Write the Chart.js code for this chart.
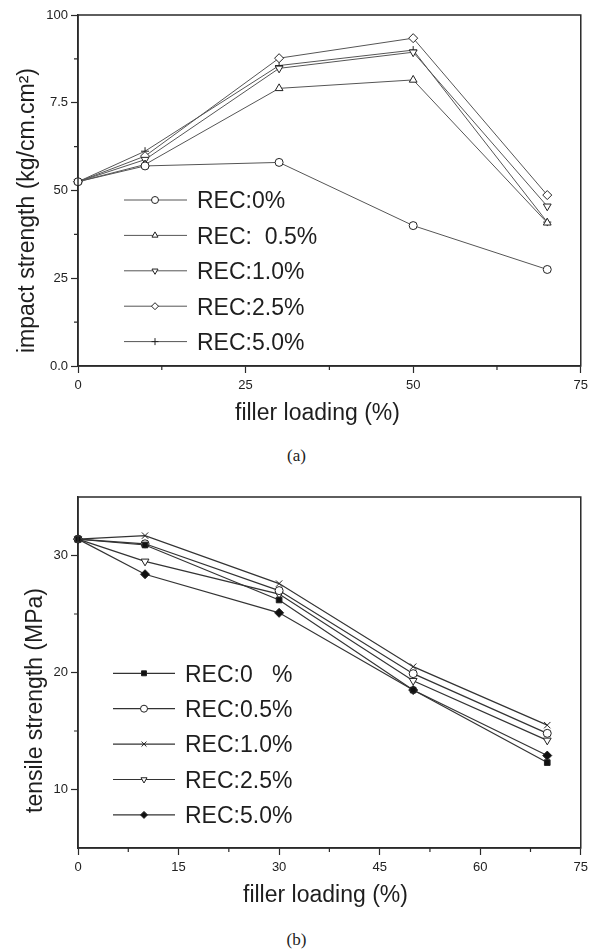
<!DOCTYPE html>
<html><head><meta charset="utf-8">
<script src="https://cdn.jsdelivr.net/npm/chart.js@4.4.0/dist/chart.umd.min.js"></script>
<style>
html,body{margin:0;padding:0;background:#fff;}
body{width:593px;height:949px;position:relative;overflow:hidden;}
.wrap{position:absolute;left:0;width:593px;}
#wa{top:0;height:430px;}
#wb{top:470px;height:445px;}
.cap{position:absolute;left:0;width:593px;text-align:center;font-family:'Liberation Serif','Times New Roman',serif;font-size:17px;color:#222;line-height:20px;}
</style></head><body>
<div class="wrap" id="wa"><canvas id="ca"></canvas></div>
<div class="cap" style="top:446px;">(a)</div>
<div class="wrap" id="wb"><canvas id="cb"></canvas></div>
<div class="cap" style="top:930px;">(b)</div>
<script>
// ---------- data: chart (a) impact strength ----------
const fillerA = [0, 10, 30, 50, 70];
const impactRec0 = [5.25, 5.70, 5.80, 4.00, 2.75];
const impactRec05 = [5.25, 5.74, 7.91, 8.15, 4.08];
const impactRec10 = [5.25, 5.88, 8.48, 8.94, 4.55];
const impactRec25 = [5.25, 5.98, 8.77, 9.34, 4.87];
const impactRec50 = [5.25, 6.12, 8.56, 9.00, 4.10];
const labelsA = ['REC:0%', 'REC:  0.5%', 'REC:1.0%', 'REC:2.5%', 'REC:5.0%'];
const xTicksA = [0, 25, 50, 75];
const xMinorA = [12.5, 37.5, 62.5];
const yTicksA = [0, 2.5, 5, 7.5, 10];
const yTickLabelsA = ['0.0', '25', '50', '7.5', '100'];
const yMinorA = [1.25, 3.75, 6.25, 8.75];

// ---------- data: chart (b) tensile strength ----------
const fillerB = [0, 10, 30, 50, 70];
const tensileRec0 = [31.4, 30.9, 26.2, 18.5, 12.3];
const tensileRec05 = [31.4, 31.0, 27.0, 19.9, 14.8];
const tensileRec10 = [31.4, 31.7, 27.6, 20.5, 15.5];
const tensileRec25 = [31.4, 29.5, 26.7, 19.3, 14.2];
const tensileRec50 = [31.4, 28.4, 25.1, 18.5, 12.9];
const labelsB = ['REC:0   %', 'REC:0.5%', 'REC:1.0%', 'REC:2.5%', 'REC:5.0%'];
const xTicksB = [0, 15, 30, 45, 60, 75];
const xMinorB = [7.5, 22.5, 37.5, 52.5, 67.5];
const yTicksB = [10, 20, 30];
const yMinorB = [15, 25];

const FONT = '"Liberation Sans", Arial, Helvetica, sans-serif';

function pts(xs, ys) { return xs.map((x, i) => ({x: x, y: ys[i]})); }

function drawMarker(ctx, ds, x, y, r) {
  const opts = {pointStyle: ds.pointStyle, rotation: ds.pointRotation || 0, radius: r, borderWidth: ds.pointBorderWidth};
  ctx.fillStyle = ds.pointBackgroundColor;
  ctx.strokeStyle = ds.pointBorderColor;
  ctx.lineWidth = ds.pointBorderWidth;
  if (Chart.helpers && Chart.helpers.drawPoint) {
    Chart.helpers.drawPoint(ctx, opts, x, y);
  }
}

const deco = {
  id: 'deco',
  afterDraw(chart, args, o) {
    const ctx = chart.ctx, a = chart.chartArea;
    const xs = chart.scales.x, ys = chart.scales.y;
    ctx.save();
    // frame
    ctx.strokeStyle = '#2a2a2a';
    ctx.lineWidth = 1.5;
    ctx.strokeRect(a.left, a.top, a.right - a.left, a.bottom - a.top);
    // minor ticks
    ctx.lineWidth = 1.2;
    ctx.beginPath();
    o.minorX.forEach(v => { const px = xs.getPixelForValue(v); ctx.moveTo(px, a.bottom); ctx.lineTo(px, a.bottom + 4); });
    o.minorY.forEach(v => { const py = ys.getPixelForValue(v); ctx.moveTo(a.left, py); ctx.lineTo(a.left - 4, py); });
    ctx.stroke();
    // axis titles
    ctx.fillStyle = '#1e1e1e';
    ctx.font = '23px ' + FONT;
    ctx.textAlign = 'left';
    ctx.textBaseline = 'alphabetic';
    ctx.fillText(o.xTitle, o.xTitlePos[0], o.xTitlePos[1]);
    ctx.save();
    ctx.translate(o.yTitlePos[0], o.yTitlePos[1]);
    ctx.rotate(-Math.PI / 2);
    ctx.fillText(o.yTitle, 0, 0);
    ctx.restore();
    // legend
    const L = o.legend;
    chart.data.datasets.forEach((ds, i) => {
      const y = L.y + i * L.dy;
      ctx.strokeStyle = ds.borderColor;
      ctx.lineWidth = ds.borderWidth;
      ctx.beginPath();
      ctx.moveTo(L.x1, y); ctx.lineTo(L.x2, y);
      ctx.stroke();
      drawMarker(ctx, ds, L.xm, y, L.r);
      ctx.fillStyle = '#1e1e1e';
      ctx.font = '23px ' + FONT;
      ctx.textAlign = 'left';
      ctx.textBaseline = 'middle';
      ctx.fillText(ds.label, L.xt, y + 2);
    });
    ctx.restore();
  }
};

function axisCommon(ticksArr, labelFn, padding) {
  return {
    type: 'linear',
    afterBuildTicks: s => { s.ticks = ticksArr.map(v => ({value: v})); },
    ticks: {
      color: '#222',
      font: {family: FONT, size: 13},
      padding: padding,
      maxRotation: 0,
      autoSkip: false,
      callback: labelFn
    },
    grid: {display: true, drawOnChartArea: false, drawTicks: true, tickLength: 7, color: '#2a2a2a', tickWidth: 1.2},
    border: {display: true, color: '#2a2a2a', width: 1.5}
  };
}

function series(label, xs, ys, style, fill, rot, color, bw, r) {
  return {
    label: label,
    data: pts(xs, ys),
    borderColor: color,
    borderWidth: bw,
    pointStyle: style,
    pointRotation: rot,
    pointRadius: r,
    pointBackgroundColor: fill,
    pointBorderColor: '#222',
    pointBorderWidth: 1,
    tension: 0,
    fill: false,
    clip: false
  };
}

// ---------- chart (a) ----------
const lineA = '#555';
new Chart(document.getElementById('ca'), {
  type: 'line',
  data: {
    datasets: [
      series(labelsA[0], fillerA, impactRec0, 'circle', '#fff', 0, lineA, 1, 4),
      series(labelsA[1], fillerA, impactRec05, 'triangle', '#fff', 0, lineA, 1, 4.5),
      series(labelsA[2], fillerA, impactRec10, 'triangle', '#fff', 180, lineA, 1, 4.5),
      series(labelsA[3], fillerA, impactRec25, 'rectRot', '#fff', 0, lineA, 1, 4.5),
      series(labelsA[4], fillerA, impactRec50, 'cross', '#fff', 0, lineA, 1, 4)
    ]
  },
  options: {
    responsive: true, maintainAspectRatio: false, animation: false, devicePixelRatio: 1,
    layout: {padding: {left: 0, top: 15, right: 10, bottom: 0}},
    scales: {
      x: Object.assign(axisCommon(xTicksA, v => String(v), 5), {
        min: 0, max: 75,
        afterFit: s => { s.height = 64; }
      }),
      y: Object.assign(axisCommon(yTicksA, (v, i) => yTickLabelsA[i], 3), {
        min: 0, max: 10,
        afterFit: s => { s.width = 78; }
      })
    },
    plugins: {
      legend: {display: false},
      tooltip: {enabled: false},
      deco: {
        minorX: xMinorA, minorY: yMinorA,
        xTitle: 'filler loading (%)', xTitlePos: [235, 420],
        yTitle: 'impact strength (kg/cm.cm\u00B2)', yTitlePos: [34, 353],
        legend: {x1: 124, x2: 187, xm: 155, xt: 197, y: 200, dy: 35.4, r: 3.5}
      }
    }
  },
  plugins: [deco]
});

// ---------- chart (b) ----------
const lineB = '#333';
new Chart(document.getElementById('cb'), {
  type: 'line',
  data: {
    datasets: [
      series(labelsB[0], fillerB, tensileRec0, 'rect', '#111', 0, lineB, 1.2, 4),
      series(labelsB[1], fillerB, tensileRec05, 'circle', '#fff', 0, lineB, 1.2, 4),
      series(labelsB[2], fillerB, tensileRec10, 'crossRot', '#fff', 0, lineB, 1.2, 4.5),
      series(labelsB[3], fillerB, tensileRec25, 'triangle', '#fff', 180, lineB, 1.2, 4.5),
      series(labelsB[4], fillerB, tensileRec50, 'rectRot', '#111', 0, lineB, 1.2, 4.5)
    ]
  },
  options: {
    responsive: true, maintainAspectRatio: false, animation: false, devicePixelRatio: 1,
    layout: {padding: {left: 0, top: 27, right: 10, bottom: 0}},
    scales: {
      x: Object.assign(axisCommon(xTicksB, v => String(v), 5), {
        min: 0, max: 75,
        afterFit: s => { s.height = 67; }
      }),
      y: Object.assign(axisCommon(yTicksB, v => String(v), 3), {
        min: 5, max: 35,
        afterFit: s => { s.width = 78; }
      })
    },
    plugins: {
      legend: {display: false},
      tooltip: {enabled: false},
      deco: {
        minorX: xMinorB, minorY: yMinorB,
        xTitle: 'filler loading (%)', xTitlePos: [243, 432],
        yTitle: 'tensile strength (MPa)', yTitlePos: [42, 343],
        legend: {x1: 113, x2: 175, xm: 144, xt: 185, y: 203.3, dy: 35.4, r: 3.5}
      }
    }
  },
  plugins: [deco]
});
</script>
</body></html>
